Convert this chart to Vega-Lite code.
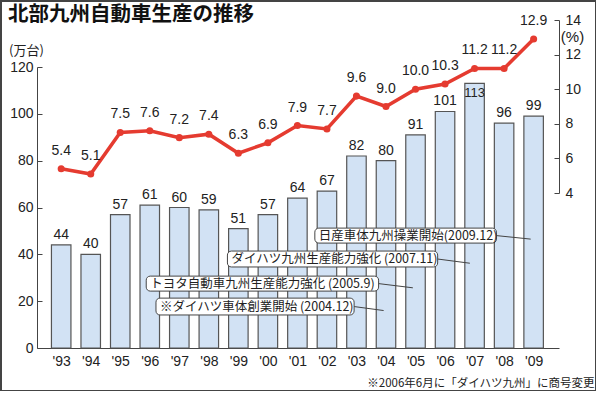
{
  "$schema": "https://vega.github.io/schema/vega-lite/v6.json",
  "width": 595,
  "height": 390,
  "autosize": {"type": "none"},
  "padding": {"left": 1, "top": 1, "right": 0, "bottom": 0},
  "background": "white",
  "config": {
    "view": {"stroke": "#444", "strokeWidth": 2},
    "font": "Liberation Sans",
    "axis": {"grid": false, "domainColor": "#444", "tickColor": "#444", "labelColor": "#222", "labelFontSize": 14, "labelFont": "Liberation Sans", "labelOverlap": false, "labelSeparation": 0, "labelBound": false}
  },
  "title": {
    "text": "北部九州自動車生産の推移",
    "anchor": "start",
    "font": "Noto Sans CJK JP",
    "fontSize": 20.5,
    "fontWeight": "bold",
    "color": "#111",
    "dx": 7,
    "offset": -24
  },
  "datasets": {
    "prod": [
      {"year": 1993, "units": 44, "pct": 5.4},
      {"year": 1994, "units": 40, "pct": 5.1},
      {"year": 1995, "units": 57, "pct": 7.5},
      {"year": 1996, "units": 61, "pct": 7.6},
      {"year": 1997, "units": 60, "pct": 7.2},
      {"year": 1998, "units": 59, "pct": 7.4},
      {"year": 1999, "units": 51, "pct": 6.3},
      {"year": 2000, "units": 57, "pct": 6.9},
      {"year": 2001, "units": 64, "pct": 7.9},
      {"year": 2002, "units": 67, "pct": 7.7},
      {"year": 2003, "units": 82, "pct": 9.6},
      {"year": 2004, "units": 80, "pct": 9.0},
      {"year": 2005, "units": 91, "pct": 10.0},
      {"year": 2006, "units": 101, "pct": 10.3},
      {"year": 2007, "units": 113, "pct": 11.2},
      {"year": 2008, "units": 96, "pct": 11.2},
      {"year": 2009, "units": 99, "pct": 12.9}
    ],
    "notes": [
      {"label": "日産車体九州操業開始(2009.12)", "x1": 2001.59, "x2": 2007.74, "y1": 51.2, "y2": 44.8, "ym": 48.0, "px": 2008.9, "py": 46.5},
      {"label": "ダイハツ九州生産能力強化 (2007.11)", "x1": 1998.63, "x2": 2005.75, "y1": 41.4, "y2": 34.6, "ym": 38.0, "px": 2006.84, "py": 36.2},
      {"label": "トヨタ自動車九州生産能力強化 (2005.9)", "x1": 1995.88, "x2": 2003.75, "y1": 30.7, "y2": 24.3, "ym": 27.5, "px": 2004.91, "py": 25.7},
      {"label": "※ダイハツ車体創業開始 (2004.12)", "x1": 1996.21, "x2": 2002.92, "y1": 21.3, "y2": 14.1, "ym": 17.7, "px": 2003.92, "py": 16.0}
    ]
  },
  "layer": [
    {
      "layer": [
        {
          "data": {"name": "prod"},
          "mark": {"type": "bar", "width": 19.5, "fill": "#d2e2f4", "stroke": "#555", "strokeWidth": 1.2},
          "encoding": {
            "x": {"field": "year", "type": "quantitative",
              "scale": {"domain": [1992.35, 2009.69], "range": [36, 558], "nice": false, "zero": false},
              "axis": {"orient": "bottom", "offset": -43, "values": [1993,1994,1995,1996,1997,1998,1999,2000,2001,2002,2003,2004,2005,2006,2007,2008,2009],
                "tickCount": 17, "labelExpr": "\"'\" + slice(toString(datum.value), 2)", "ticks": false, "labelPadding": 6, "labelOverlap": false, "labelSeparation": 0, "labelFlush": false, "labelBound": false,
                "title": "※2006年6月に「ダイハツ九州」に商号変更", "titleFont": "Noto Sans CJK JP", "titleFontSize": 11.5, "titleFontWeight": "normal", "titleColor": "#222",
                "titleAnchor": "end", "titleAlign": "right", "titleBaseline": "middle", "titleX": 593, "titleY": 35}},
            "y": {"field": "units", "type": "quantitative",
              "scale": {"domain": [0, 120], "range": [347, 66], "nice": false, "zero": true},
              "axis": {"orient": "left", "offset": -36, "values": [0,20,40,60,80,100,120], "tickSize": -5, "labelPadding": 9, "labelOverlap": false,
                "title": "(万台)", "titleFont": "Noto Sans CJK JP", "titleFontSize": 13, "titleFontWeight": "normal", "titleColor": "#222",
                "titleAngle": 0, "titleAlign": "center", "titleBaseline": "middle", "titleX": -11, "titleY": 49}}
          }
        },
        {
          "data": {"name": "prod"},
          "transform": [{"filter": "datum.year != 2007"}],
          "mark": {"type": "text", "baseline": "bottom", "dy": -3, "fontSize": 14, "color": "#222"},
          "encoding": {
            "x": {"field": "year", "type": "quantitative", "scale": {"domain": [1992.35, 2009.69], "range": [36, 558], "nice": false, "zero": false}},
            "y": {"field": "units", "type": "quantitative", "scale": {"domain": [0, 120], "range": [347, 66], "nice": false, "zero": true}},
            "text": {"field": "units", "type": "quantitative"}
          }
        },
        {
          "data": {"name": "prod"},
          "transform": [{"filter": "datum.year == 2007"}],
          "mark": {"type": "text", "baseline": "top", "dy": 4, "fontSize": 13, "color": "#222"},
          "encoding": {
            "x": {"field": "year", "type": "quantitative", "scale": {"domain": [1992.35, 2009.69], "range": [36, 558], "nice": false, "zero": false}},
            "y": {"field": "units", "type": "quantitative", "scale": {"domain": [0, 120], "range": [347, 66], "nice": false, "zero": true}},
            "text": {"field": "units", "type": "quantitative"}
          }
        },
        {
          "data": {"name": "notes"},
          "mark": {"type": "rule", "color": "#444", "strokeWidth": 1},
          "encoding": {
            "x": {"field": "x2", "type": "quantitative", "scale": {"domain": [1992.35, 2009.69], "range": [36, 558], "nice": false, "zero": false}},
            "x2": {"field": "px"},
            "y": {"field": "ym", "type": "quantitative", "scale": {"domain": [0, 120], "range": [347, 66], "nice": false, "zero": true}},
            "y2": {"field": "py"}
          }
        },
        {
          "data": {"name": "notes"},
          "mark": {"type": "rect", "fill": "white", "stroke": "#444", "strokeWidth": 1, "cornerRadius": 4},
          "encoding": {
            "x": {"field": "x1", "type": "quantitative", "scale": {"domain": [1992.35, 2009.69], "range": [36, 558], "nice": false, "zero": false}},
            "x2": {"field": "x2"},
            "y": {"field": "y1", "type": "quantitative", "scale": {"domain": [0, 120], "range": [347, 66], "nice": false, "zero": true}},
            "y2": {"field": "y2"}
          }
        },
        {
          "data": {"name": "notes"},
          "mark": {"type": "text", "align": "left", "baseline": "middle", "dx": 4, "font": "Noto Sans CJK JP", "fontSize": 12.5, "color": "#222"},
          "encoding": {
            "x": {"field": "x1", "type": "quantitative", "scale": {"domain": [1992.35, 2009.69], "range": [36, 558], "nice": false, "zero": false}},
            "y": {"field": "ym", "type": "quantitative", "scale": {"domain": [0, 120], "range": [347, 66], "nice": false, "zero": true}},
            "text": {"field": "label"}
          }
        }
      ]
    },
    {
      "data": {"name": "prod"},
      "encoding": {
        "x": {"field": "year", "type": "quantitative", "scale": {"domain": [1992.35, 2009.69], "range": [36, 558], "nice": false, "zero": false}},
        "y": {"field": "pct", "type": "quantitative",
          "scale": {"domain": [4, 14], "range": [192, 19], "nice": false, "zero": false},
          "axis": {"orient": "right", "offset": -37, "values": [4,6,8,10,12,14], "tickSize": -5, "labelPadding": 11, "labelOverlap": false,
            "title": "(%)", "titleFont": "Liberation Sans", "titleFontSize": 15, "titleFontWeight": "normal", "titleColor": "#222",
            "titleAngle": 0, "titleAlign": "center", "titleBaseline": "middle", "titleX": 13, "titleY": 35}}
      },
      "layer": [
        {"mark": {"type": "line", "color": "#e53b30", "strokeWidth": 3.5}},
        {"mark": {"type": "point", "filled": true, "color": "#e53b30", "size": 50, "opacity": 1}},
        {"mark": {"type": "text", "baseline": "middle", "dy": -18, "fontSize": 14, "color": "#222"},
         "encoding": {"text": {"field": "pct", "type": "quantitative", "format": ".1f"}}}
      ]
    }
  ],
  "resolve": {"scale": {"y": "independent"}, "axis": {"y": "independent"}}
}
